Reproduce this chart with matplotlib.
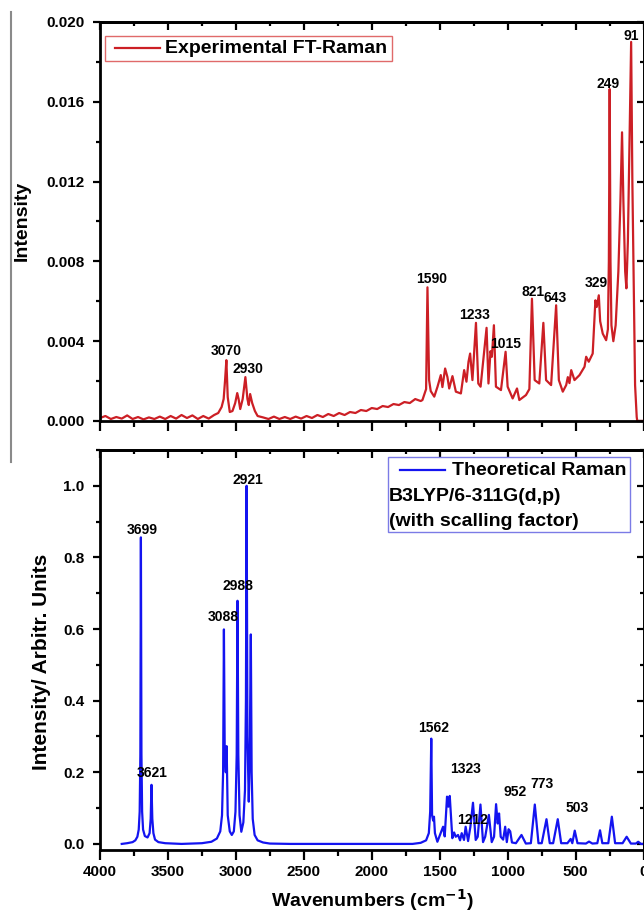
import numpy as np
import matplotlib
matplotlib.use('Agg')
import matplotlib.pyplot as plt
from matplotlib.ticker import MultipleLocator, FormatStrFormatter
from matplotlib.patches import Rectangle
from matplotlib.lines import Line2D

plt.rcParams['font.family'] = ['Liberation Sans', 'DejaVu Sans']
plt.rcParams['font.weight'] = 'bold'

# Experimental FT-Raman trace (wavenumber, intensity)
exp_wn = [4000, 3960, 3920, 3880, 3840, 3800, 3760, 3720, 3680, 3640, 3600, 3560,
          3520, 3480, 3440, 3400, 3360, 3320, 3280, 3240, 3200, 3160, 3130, 3105,
          3090, 3080, 3070, 3060, 3045, 3025, 3005, 2990, 2980, 2968, 2950, 2930,
          2915, 2905, 2895, 2880, 2860, 2840, 2800, 2760, 2720, 2680, 2640, 2600,
          2560, 2520, 2480, 2440, 2400, 2360, 2320, 2280, 2240, 2200, 2160, 2120,
          2080, 2040, 2000, 1960, 1920, 1880, 1840, 1800, 1760, 1720, 1680, 1640,
          1627, 1600, 1590, 1578, 1566, 1540, 1516, 1492, 1480, 1460, 1443, 1430,
          1406, 1381, 1344, 1320, 1303, 1288, 1276, 1259, 1233, 1216, 1199, 1155,
          1141, 1126, 1116, 1101, 1086, 1049, 1015, 1000, 963, 931, 914, 865,
          840, 821, 801, 767, 737, 717, 680, 643, 623, 594, 569, 557,
          545, 532, 508, 471, 434, 422, 403, 374, 354, 344, 329, 319,
          300, 275, 262, 255, 249, 243, 236, 222, 205, 185, 170, 158,
          148, 135, 126, 115, 103, 91, 82, 70, 62, 50, 46, 0]
exp_int = [0.00015, 0.00025, 0.0001, 0.0002, 0.00012, 0.00028, 0.0001, 0.0002, 0.00008, 0.00018, 0.0001, 0.00022,
           0.0001, 0.00025, 0.00012, 0.0003, 0.00015, 0.00028, 0.0001, 0.00025, 0.00012, 0.0003, 0.0004, 0.0007,
           0.0011, 0.002, 0.00305, 0.0012, 0.00045, 0.0005, 0.0009, 0.0014, 0.0011, 0.0006, 0.0011, 0.0022,
           0.0011, 0.0008, 0.00135, 0.0009, 0.0005, 0.00025, 0.00018, 0.0001, 0.00022, 0.0001, 0.0002, 0.0001,
           0.00022, 0.00012, 0.00025, 0.00015, 0.0003, 0.0002, 0.00035, 0.00025, 0.0004, 0.0003, 0.00045, 0.0004,
           0.00055, 0.0005, 0.00065, 0.0006, 0.00075, 0.0007, 0.00085, 0.0008, 0.00095, 0.0009, 0.0011, 0.001,
           0.00105, 0.0016, 0.0067, 0.00205, 0.0015, 0.00122, 0.00172, 0.0023, 0.0017, 0.00263, 0.0022, 0.00163,
           0.00225, 0.00147, 0.00138, 0.00255, 0.00197, 0.00297, 0.00338, 0.00205, 0.00492, 0.00188, 0.00172, 0.00467,
           0.00188, 0.0035, 0.00322, 0.0048, 0.00172, 0.00155, 0.00347, 0.00172, 0.00113, 0.00163, 0.00105, 0.0013,
           0.0016, 0.00613, 0.00205, 0.00188, 0.00492, 0.00205, 0.0018, 0.0058, 0.00205, 0.00147, 0.0018, 0.0022,
           0.0019, 0.00255, 0.00205, 0.0023, 0.00272, 0.00322, 0.00297, 0.00338, 0.00605, 0.00572, 0.0063, 0.005,
           0.00438, 0.00405, 0.0046, 0.008, 0.01664, 0.008, 0.0048, 0.004, 0.0048, 0.0075, 0.011, 0.01447,
           0.011, 0.0075, 0.00665, 0.009, 0.014, 0.019, 0.012, 0.006, 0.0018, 0.0002, 0.0, 0.0]

# Theoretical Raman trace (wavenumber, relative intensity)
th_wn = [3840, 3800, 3760, 3740, 3725, 3715, 3708, 3703, 3699, 3695, 3690, 3683,
         3670, 3650, 3635, 3627, 3621, 3615, 3607, 3595, 3570, 3520, 3400, 3250,
         3180, 3140, 3115, 3102, 3094, 3088, 3082, 3074, 3068, 3060, 3045, 3030,
         3015, 3003, 2994, 2988, 2982, 2973, 2960, 2945, 2933, 2926, 2921, 2915,
         2905, 2898, 2890, 2884, 2876, 2862, 2840, 2800, 2750, 2600, 1700, 1640,
         1600, 1580, 1570, 1562, 1556, 1548, 1542, 1535, 1517, 1475, 1463, 1446,
         1436, 1426, 1407, 1394, 1382, 1365, 1350, 1338, 1321, 1309, 1291, 1274,
         1255, 1235, 1220, 1200, 1181, 1165, 1138, 1117, 1100, 1085, 1073, 1063,
         1051, 1033, 1018, 1006, 993, 981, 968, 939, 898, 866, 829, 800,
         773, 749, 714, 690, 665, 631, 606, 560, 536, 524, 506, 486,
         424, 401, 376, 340, 320, 303, 259, 233, 209, 154, 124, 93,
         56, 39, 19, 0]
th_int = [0.0, 0.002, 0.005, 0.01, 0.02, 0.04, 0.09, 0.25, 0.856, 0.25, 0.09, 0.04,
          0.022, 0.018, 0.03, 0.07, 0.165, 0.07, 0.03, 0.012, 0.005, 0.002, 0.0, 0.002,
          0.006, 0.015, 0.035, 0.08, 0.2, 0.599, 0.25, 0.2, 0.273, 0.08, 0.035, 0.025,
          0.035, 0.09, 0.25, 0.679, 0.25, 0.08, 0.034, 0.06, 0.15, 0.4, 1.0, 0.3,
          0.118, 0.25, 0.585, 0.2, 0.07, 0.025, 0.01, 0.004, 0.001, 0.0, 0.0, 0.003,
          0.01, 0.03, 0.09, 0.294, 0.08, 0.065, 0.076, 0.03, 0.006, 0.048, 0.021, 0.132,
          0.104, 0.134, 0.016, 0.032, 0.02, 0.025, 0.01, 0.03, 0.011, 0.048, 0.008, 0.048,
          0.115, 0.011, 0.02, 0.11, 0.005, 0.02, 0.081, 0.005, 0.02, 0.111, 0.057, 0.085,
          0.02, 0.012, 0.048, 0.005, 0.041, 0.035, 0.004, 0.002, 0.025, 0.001, 0.002, 0.11,
          0.002, 0.002, 0.069, 0.002, 0.002, 0.069, 0.002, 0.002, 0.014, 0.002, 0.037, 0.002,
          0.001, 0.0065, 0.001, 0.002, 0.038, 0.002, 0.002, 0.076, 0.002, 0.002, 0.02, 0.001,
          0.001, 0.006, 0.0, 0.0]

# Peak labels
exp_labels = ['3070', '2930', '1590', '1233', '1015', '821', '643', '329', '249', '91']
th_labels = ['3699', '3621', '3088', '2988', '2921', '1562', '1323', '1212', '952', '773', '503']

# label placement (data coords)
exp_lab_x = [3068, 2914, 1561, 1243, 1016, 816, 647, 350, 259, 93]
exp_lab_y = [0.00352, 0.00263, 0.00714, 0.00533, 0.00385, 0.00647, 0.00618, 0.00692, 0.0169, 0.0193]
th_lab_x = [3688, 3613, 3095, 2983, 2914, 1545, 1310, 1258, 943, 744, 489]
th_lab_y = [0.876, 0.198, 0.633, 0.719, 1.015, 0.325, 0.208, 0.067, 0.144, 0.166, 0.101]

red = '#cc1f25'
blue = '#1414f0'

fig = plt.figure(figsize=(6.44, 9.13), dpi=100)
ax1 = fig.add_axes([0.15528, 0.53889, 0.84395, 0.43702])
ax2 = fig.add_axes([0.15528, 0.0690, 0.84395, 0.43811])


def style(ax, ymaj, ymin, yfmt, show_x):
    for s in ax.spines.values():
        s.set_linewidth(2)
    ax.set_xlim(4000, 0)
    ax.xaxis.set_major_locator(MultipleLocator(500))
    ax.xaxis.set_minor_locator(MultipleLocator(250))
    ax.yaxis.set_major_locator(MultipleLocator(ymaj))
    ax.yaxis.set_minor_locator(MultipleLocator(ymin))
    ax.yaxis.set_major_formatter(FormatStrFormatter(yfmt))
    ax.tick_params(axis='x', which='major', direction='out', length=7, width=1.6,
                   labelsize=11, pad=4, labelbottom=show_x)
    ax.tick_params(axis='x', which='minor', direction='out', length=4.3, width=1.6)
    ax.tick_params(axis='y', which='major', direction='out', length=5, width=1.6,
                   labelsize=11, pad=6)
    ax.tick_params(axis='y', which='minor', direction='out', length=3, width=1.6)
    # mirrored ticks on top/right point inwards
    sx = ax.secondary_xaxis('top')
    sx.xaxis.set_major_locator(MultipleLocator(500))
    sx.xaxis.set_minor_locator(MultipleLocator(250))
    sx.tick_params(which='major', direction='in', length=5.5, width=1.6, labeltop=False)
    sx.tick_params(which='minor', direction='in', length=3, width=1.6)
    sx.spines['top'].set_linewidth(2)
    sy = ax.secondary_yaxis('right')
    sy.yaxis.set_major_locator(MultipleLocator(ymaj))
    sy.yaxis.set_minor_locator(MultipleLocator(ymin))
    sy.tick_params(which='major', direction='in', length=5, width=1.6, labelright=False)
    sy.tick_params(which='minor', direction='in', length=3, width=1.6)
    sy.spines['right'].set_linewidth(2)


# top panel: experimental
ax1.plot(exp_wn, exp_int, color=red, lw=1.6)
ax1.set_ylim(0, 0.020)
style(ax1, 0.004, 0.002, '%.3f', False)
for t, x, y in zip(exp_labels, exp_lab_x, exp_lab_y):
    ax1.text(x, y, t, ha='center', va='center', fontsize=10, fontweight='bold')
ax1.add_patch(Rectangle((0.0087, 0.903), 0.5293, 0.062, transform=ax1.transAxes,
                        fill=False, edgecolor='#e06a6a', lw=1))
ax1.add_line(Line2D([0.0276, 0.1105], [0.934, 0.934], transform=ax1.transAxes,
                    color=red, lw=1.6))
ax1.text(0.12, 0.934, 'Experimental FT-Raman', transform=ax1.transAxes,
         ha='left', va='center', fontsize=14, fontweight='bold')

# bottom panel: theoretical
ax2.plot(th_wn, th_int, color=blue, lw=1.6)
ax2.set_ylim(-0.017, 1.1)
style(ax2, 0.2, 0.1, '%.1f', True)
for t, x, y in zip(th_labels, th_lab_x, th_lab_y):
    ax2.text(x, y, t, ha='center', va='center', fontsize=10, fontweight='bold')
ax2.add_patch(Rectangle((0.529, 0.796), 0.447, 0.187, transform=ax2.transAxes,
                        fill=False, edgecolor='#7b7be6', lw=1))
ax2.add_line(Line2D([0.5525, 0.635], [0.95, 0.95], transform=ax2.transAxes,
                    color=blue, lw=1.6))
ax2.text(0.6476, 0.95, 'Theoretical Raman', transform=ax2.transAxes,
         ha='left', va='center', fontsize=14, fontweight='bold')
ax2.text(0.532, 0.883, 'B3LYP/6-311G(d,p)', transform=ax2.transAxes,
         ha='left', va='center', fontsize=14, fontweight='bold')
ax2.text(0.531, 0.821, '(with scalling factor)', transform=ax2.transAxes,
         ha='left', va='center', fontsize=14, fontweight='bold')

fig.text(0.0351, 0.7579, 'Intensity', rotation=90, ha='center', va='center',
         fontsize=14, fontweight='bold')
fig.text(0.0637, 0.2749, 'Intensity/ Arbitr. Units', rotation=90, ha='center', va='center',
         fontsize=15, fontweight='bold')
fig.text(0.5776, 0.014, 'Wavenumbers (cm$^{\\mathbf{-1}}$)', ha='center', va='center',
         fontsize=14, fontweight='bold')

# grey rule at the left edge of the upper panel
fig.add_artist(Line2D([11 / 644, 11 / 644], [1 - 12 / 913, 1 - 462 / 913],
                      color='#8a8a8a', lw=1.5))

fig.savefig('out.png', dpi=100)
